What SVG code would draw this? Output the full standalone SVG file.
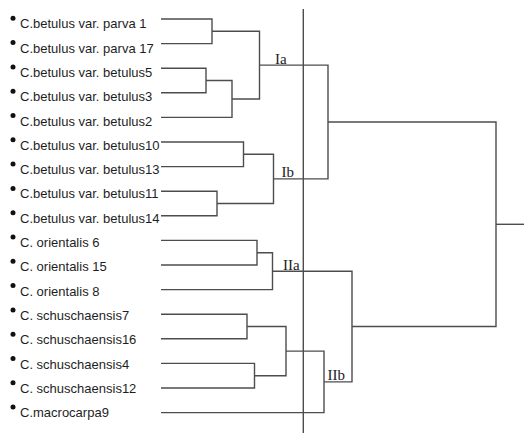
<svg xmlns="http://www.w3.org/2000/svg" width="524" height="433" viewBox="0 0 524 433">
<style>
.leaf{font-family:"Liberation Sans",Arial,sans-serif;font-size:13px;fill:#1e1e1e}
.dot{fill:#111}
.lab{font-family:"Liberation Serif","Times New Roman",serif;font-size:15px;fill:#222}
.c{fill:none;stroke:#4d4d4d;stroke-width:1.4}
</style>
<rect width="524" height="433" fill="#fff"/>
<g id="connectors" class="c">
<path d="M161 19 H212 V43.6 H161"/>
<path d="M161 68.2 H206 V92.8 H161"/>
<path d="M206 80.5 H232 V117.4 H161"/>
<path d="M212 31.3 H259.5 V99 H232"/>
<path d="M161 142 H243.5 V166.6 H161"/>
<path d="M161 191.2 H217 V215.8 H161"/>
<path d="M243.5 154.3 H273.5 V203.5 H217"/>
<path d="M259.5 65.1 H328 V178.9 H273.5"/>
<path d="M161 240.4 H257 V265 H161"/>
<path d="M257 252.7 H272.5 V289.6 H161"/>
<path d="M161 314.2 H247 V338.8 H161"/>
<path d="M161 363.4 H254.5 V388 H161"/>
<path d="M247 326.5 H286 V375.7 H254.5"/>
<path d="M286 351.1 H324 V412.6 H161"/>
<path d="M272.5 271.2 H352 V381.9 H324"/>
<path d="M328 122 H496 V326.5 H352"/>
<path d="M496 224.3 H524"/>
<path d="M303.3 9 V433"/>
</g>
<g id="n1"><circle class="dot" cx="13" cy="18.3" r="2.5"/><text class="leaf" x="20" y="28.3">C.betulus var. parva 1</text></g>
<g id="n2"><circle class="dot" cx="13" cy="42.6" r="2.5"/><text class="leaf" x="20" y="52.6">C.betulus var. parva 17</text></g>
<g id="n3"><circle class="dot" cx="13" cy="66.9" r="2.5"/><text class="leaf" x="20" y="76.9">C.betulus var. betulus5</text></g>
<g id="n4"><circle class="dot" cx="13" cy="91.2" r="2.5"/><text class="leaf" x="20" y="101.2">C.betulus var. betulus3</text></g>
<g id="n5"><circle class="dot" cx="13" cy="115.5" r="2.5"/><text class="leaf" x="20" y="125.5">C.betulus var. betulus2</text></g>
<g id="n6"><circle class="dot" cx="13" cy="139.8" r="2.5"/><text class="leaf" x="20" y="149.8">C.betulus var. betulus10</text></g>
<g id="n7"><circle class="dot" cx="13" cy="164.1" r="2.5"/><text class="leaf" x="20" y="174.1">C.betulus var. betulus13</text></g>
<g id="n8"><circle class="dot" cx="13" cy="188.4" r="2.5"/><text class="leaf" x="20" y="198.4">C.betulus var. betulus11</text></g>
<g id="n9"><circle class="dot" cx="13" cy="212.7" r="2.5"/><text class="leaf" x="20" y="222.7">C.betulus var. betulus14</text></g>
<g id="n10"><circle class="dot" cx="13" cy="237" r="2.5"/><text class="leaf" x="20" y="247">C. orientalis 6</text></g>
<g id="n11"><circle class="dot" cx="13" cy="261.3" r="2.5"/><text class="leaf" x="20" y="271.3">C. orientalis 15</text></g>
<g id="n12"><circle class="dot" cx="13" cy="285.6" r="2.5"/><text class="leaf" x="20" y="295.6">C. orientalis 8</text></g>
<g id="n13"><circle class="dot" cx="13" cy="309.9" r="2.5"/><text class="leaf" x="20" y="319.9">C. schuschaensis7</text></g>
<g id="n14"><circle class="dot" cx="13" cy="334.2" r="2.5"/><text class="leaf" x="20" y="344.2">C. schuschaensis16</text></g>
<g id="n15"><circle class="dot" cx="13" cy="358.5" r="2.5"/><text class="leaf" x="20" y="368.5">C. schuschaensis4</text></g>
<g id="n16"><circle class="dot" cx="13" cy="382.8" r="2.5"/><text class="leaf" x="20" y="392.8">C. schuschaensis12</text></g>
<g id="n17"><circle class="dot" cx="13" cy="407.1" r="2.5"/><text class="leaf" x="20" y="417.1">C.macrocarpa9</text></g>
<g id="label-Ia"><text class="lab" x="275" y="64">Ia</text></g>
<g id="label-Ib"><text class="lab" x="281.5" y="177">Ib</text></g>
<g id="label-IIa"><text class="lab" x="283" y="270">IIa</text></g>
<g id="label-IIb"><text class="lab" x="327.5" y="380">IIb</text></g>
</svg>
